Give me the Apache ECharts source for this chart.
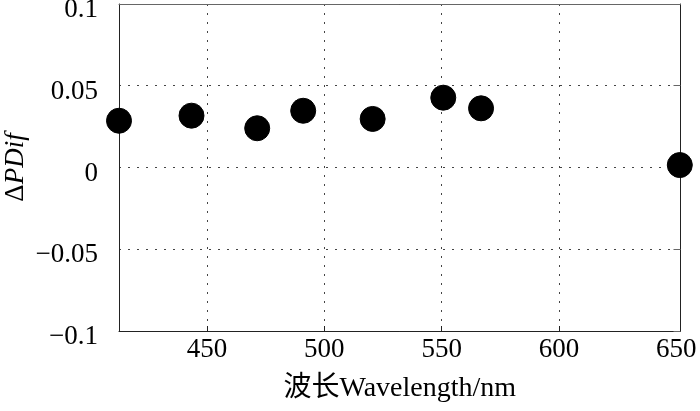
<!DOCTYPE html>
<html>
<head>
<meta charset="utf-8">
<script src="https://cdn.jsdelivr.net/npm/echarts@6/dist/echarts.min.js"></script>
<style>html,body{margin:0;padding:0;background:#fff}#c{width:700px;height:411px}</style>
</head>
<body>
<div id="c"></div>
<script>
// Data
var wavelengths = [412.5, 443.4, 471.4, 491.0, 520.6, 550.7, 566.8, 651.5];
var deltaPDif   = [0.0286, 0.0317, 0.0240, 0.0347, 0.0297, 0.0427, 0.0362, 0.0015];
var xTicks = [450, 500, 550, 600];
var xLabels = [450, 500, 550, 600, 650];
var yTicks = [-0.1, -0.05, 0, 0.05, 0.1];

var FONT = "'Liberation Serif', 'Noto Sans CJK SC', serif";
var points = wavelengths.map(function (w, i) { return [w, deltaPDif[i]]; });

function fmtY(v) {
  var s = String(Math.round(v * 100) / 100);
  return s.replace('-', '\u2212');
}

var gridLine = { show: true, lineStyle: { color: '#444', width: 1, type: [2, 7] } };

var chart = echarts.init(document.getElementById('c'));
chart.setOption({
  animation: false,
  backgroundColor: '#fff',
  grid: { left: 119, right: 19.5, top: 4, bottom: 80, containLabel: false, outerBoundsMode: 'none' },
  xAxis: [{
    type: 'value',
    min: 412.5,
    max: 651.8,
    position: 'bottom',
    name: '波长Wavelength/nm',
    nameLocation: 'middle',
    nameGap: 44,
    nameMoveOverlap: false,
    nameTextStyle: { fontFamily: FONT, fontSize: 28, color: '#000' },
    axisLine: { show: true, onZero: false, lineStyle: { color: '#222', width: 1 } },
    axisTick: { show: true, inside: true, length: 5, customValues: xTicks, lineStyle: { color: '#222' } },
    axisLabel: { customValues: xLabels, fontFamily: FONT, fontSize: 27, color: '#000', margin: 5 },
    splitLine: gridLine
  }, {
    type: 'value',
    min: 412.5,
    max: 651.8,
    position: 'top',
    axisLine: { show: true, onZero: false, lineStyle: { color: '#666', width: 1 } },
    axisTick: { show: false },
    axisLabel: { show: false },
    splitLine: { show: false }
  }],
  yAxis: [{
    type: 'value',
    min: -0.1,
    max: 0.1,
    interval: 0.05,
    position: 'left',
    name: '{a|Δ}{b|PDif}',
    nameLocation: 'middle',
    nameRotate: 90,
    nameGap: 90,
    nameMoveOverlap: false,
    nameTextStyle: {
      rich: {
        a: { fontFamily: FONT, fontSize: 27, color: '#000' },
        b: { fontFamily: FONT, fontSize: 27, fontStyle: 'italic', color: '#000' }
      }
    },
    axisLine: { show: true, onZero: false, lineStyle: { color: '#222', width: 1 } },
    axisTick: { show: false },
    axisLabel: { fontFamily: FONT, fontSize: 27, color: '#000', margin: 21, verticalAlign: 'top', lineHeight: 12, formatter: fmtY },
    splitLine: gridLine
  }, {
    type: 'value',
    min: -0.1,
    max: 0.1,
    interval: 0.05,
    position: 'right',
    axisLine: { show: true, onZero: false, lineStyle: { color: '#222', width: 1 } },
    axisTick: { show: true, inside: true, length: 7, lineStyle: { color: '#666' } },
    axisLabel: { show: false },
    splitLine: { show: false }
  }],
  series: [{
    type: 'scatter',
    xAxisIndex: 0,
    yAxisIndex: 0,
    data: points,
    symbol: 'circle',
    symbolSize: 25,
    itemStyle: { color: '#000', opacity: 1, borderColor: '#000', borderWidth: 1 },
    clip: false,
    z: 5
  }]
});
</script>
</body>
</html>
